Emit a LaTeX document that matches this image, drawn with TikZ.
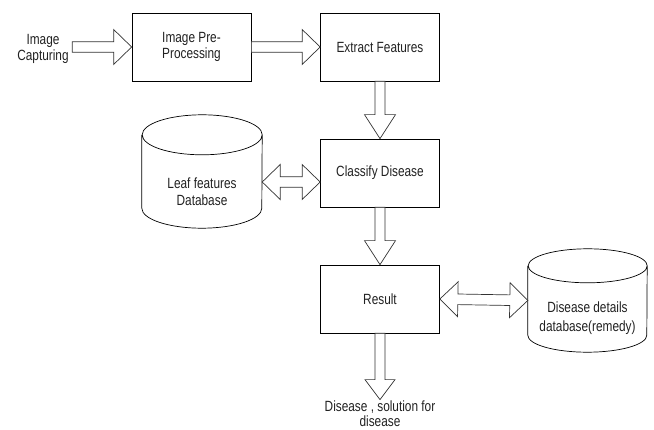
\documentclass[tikz,border=0pt]{standalone}
\usepackage{fontspec}
\setmainfont{Liberation Sans}[FakeStretch=0.8]
\usetikzlibrary{calc}

\definecolor{linegray}{rgb}{0.2,0.2,0.2}
\definecolor{textgray}{rgb}{0.13,0.13,0.13}

\tikzset{
  headlen/.store in=\headlen, headwid/.store in=\headwid, shaft/.store in=\shaft,
  headlen=18pt, headwid=17.5pt, shaft=5.3pt,
  fat/.style={draw=linegray, fill=white, line width=0.7pt},
  proc/.style={draw=black, line width=0.7pt, minimum width=119pt, minimum height=68pt, inner sep=0pt, text=textgray, font=\fontsize{14.8}{16.7}\selectfont, align=center},
  db/.style={inner sep=0pt},
  dbline/.style={draw=black, line width=0.7pt},
  lbl/.style={text=textgray, font=\fontsize{14.8}{16.5}\selectfont, align=center}
}

\newcommand\fatarrow[3][]{%
  \begin{scope}[#1]
  \coordinate (neck) at ($(#3)!\headlen!(#2)$);
  \draw[fat] ($(#2)!\shaft!90:(#3)$) -- ($(neck)!\shaft!-90:(#2)$) -- ($(neck)!\headwid!-90:(#2)$) -- (#3) -- ($(neck)!\headwid!90:(#2)$) -- ($(neck)!\shaft!90:(#2)$) -- ($(#2)!\shaft!-90:(#3)$) -- cycle;
  \end{scope}}

\newcommand\fatdouble[3][]{%
  \begin{scope}[#1]
  \coordinate (necka) at ($(#2)!\headlen!(#3)$);
  \coordinate (neckb) at ($(#3)!\headlen!(#2)$);
  \draw[fat] (#2) -- ($(necka)!\headwid!90:(#3)$) -- ($(necka)!\shaft!90:(#3)$) -- ($(neckb)!\shaft!-90:(#2)$) -- ($(neckb)!\headwid!-90:(#2)$) -- (#3) -- ($(neckb)!\headwid!90:(#2)$) -- ($(neckb)!\shaft!90:(#2)$) -- ($(necka)!\shaft!-90:(#3)$) -- ($(necka)!\headwid!-90:(#3)$) -- cycle;
  \end{scope}}

% cylinder outline round a named node: name, x radius, y radius
\newcommand\dbshape[3]{%
  \draw[dbline] ([yshift=-#3pt]#1.north west) -- ([yshift=#3pt]#1.south west)
    arc[start angle=180, end angle=0, x radius=#2, y radius=#3]
    -- ([yshift=-#3pt]#1.north east)
    arc[start angle=0, end angle=-180, x radius=#2, y radius=#3]
    arc[start angle=180, end angle=0, x radius=#2, y radius=#3];}

\begin{document}
\begin{tikzpicture}[x=1pt, y=-1pt]
    \useasboundingbox (0,0) rectangle (654,430);

    \node[lbl, font=\fontsize{14.8}{16}\selectfont] (cap) at (43,49) {Image\\Capturing};
    \node[proc] (pre) at (191.5,47) {Image Pre-\\Processing};
    \node[proc] (ext) at (380,47) {Extract Features};
    \node[proc] (cls) at (380,173) {Classify Disease};
    \node[proc] (res) at (380,299) {Result};

    \node[db, minimum width=120pt, minimum height=113pt] (ldb) at (202,171.5) {};
    \dbshape{ldb}{60}{20}
    \node[lbl, font=\fontsize{14.8}{17}\selectfont] (ldbtext) at (202,191.5) {Leaf features\\Database};
    \node[db, minimum width=119pt, minimum height=103pt] (ddb) at (587.5,300.5) {};
    \dbshape{ddb}{59.5}{17}
    \node[lbl, font=\fontsize{14.8}{18.4}\selectfont] (ddbtext) at (587.5,318) {Disease details\\database(remedy)};

    \node[lbl, inner sep=1pt, font=\fontsize{14.8}{14.5}\selectfont] (out) at (380,413.5) {Disease , solution for\\disease};

    \fatarrow{cap.east |- pre.west}{pre.west}
    \fatarrow{pre.east}{ext.west}
    \fatarrow[headlen=24pt, headwid=15.5pt, shaft=5pt]{ext.south}{cls.north}
    \fatarrow[headlen=24pt, headwid=15.5pt, shaft=5pt]{cls.south}{res.north}
    \fatarrow[headlen=20pt, headwid=15pt, shaft=5pt]{res.south}{out.north}

    \coordinate (lk) at ($(cls.west)+(0,9)$);
    \fatdouble{ldb.east |- lk}{lk}
    \fatdouble{res.east}{ddb.west}
\end{tikzpicture}
\end{document}
